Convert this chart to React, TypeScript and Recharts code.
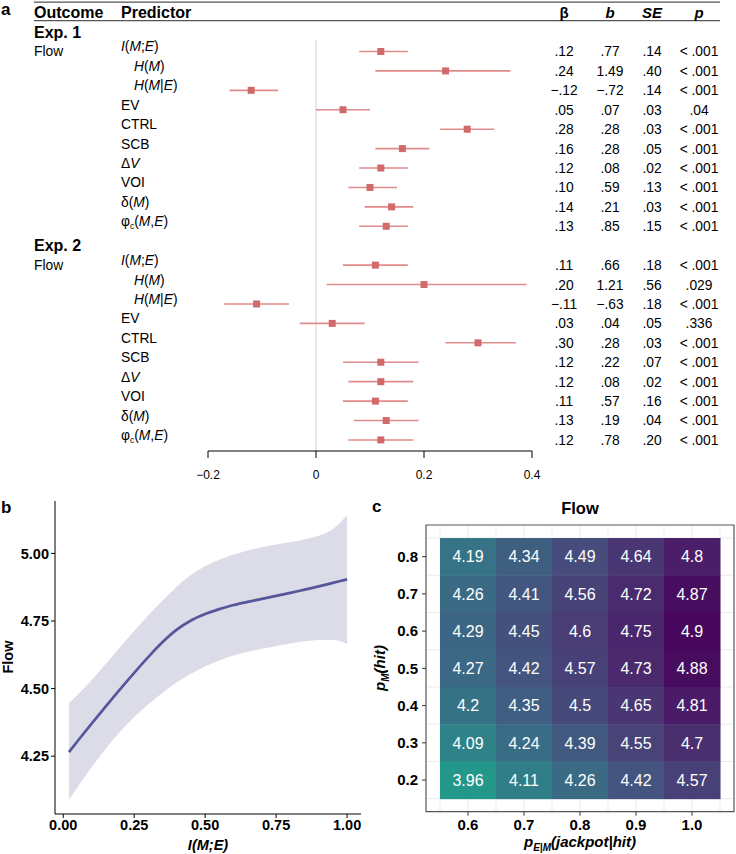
import React from "react";
import {
  ScatterChart,
  Scatter,
  ErrorBar,
  XAxis,
  YAxis,
  ReferenceLine,
  ReferenceArea,
  ComposedChart,
  Area,
  Line,
  CartesianGrid,
} from "recharts";

const FONT = '"Liberation Sans", Arial, Helvetica, sans-serif';

// ---------- panel a: regression table ----------
const predictors = [
  "_I_(_M_;_E_)",
  "_H_(_M_)",
  "_H_(_M_|_E_)",
  "EV",
  "CTRL",
  "SCB",
  "Δ_V_",
  "VOI",
  "δ(_M_)",
  "φ~c~(_M_,_E_)",
];
const predictorIndent = [0, 1, 1, 0, 0, 0, 0, 0, 0, 0];

const exp1Beta = [0.12, 0.24, -0.12, 0.05, 0.28, 0.16, 0.12, 0.1, 0.14, 0.13];
const exp1B = [0.77, 1.49, -0.72, 0.07, 0.28, 0.28, 0.08, 0.59, 0.21, 0.85];
const exp1SE = [0.14, 0.4, 0.14, 0.03, 0.03, 0.05, 0.02, 0.13, 0.03, 0.15];
const exp1P = ["< .001", "< .001", "< .001", ".04", "< .001", "< .001", "< .001", "< .001", "< .001", "< .001"];
const exp1Lo = [0.08, 0.11, -0.16, 0.0, 0.23, 0.11, 0.08, 0.06, 0.09, 0.08];
const exp1Hi = [0.17, 0.36, -0.07, 0.1, 0.33, 0.21, 0.17, 0.15, 0.18, 0.17];

const exp2Beta = [0.11, 0.2, -0.11, 0.03, 0.3, 0.12, 0.12, 0.11, 0.13, 0.12];
const exp2B = [0.66, 1.21, -0.63, 0.04, 0.28, 0.22, 0.08, 0.57, 0.19, 0.78];
const exp2SE = [0.18, 0.56, 0.18, 0.05, 0.03, 0.07, 0.02, 0.16, 0.04, 0.2];
const exp2P = ["< .001", ".029", "< .001", ".336", "< .001", "< .001", "< .001", "< .001", "< .001", "< .001"];
const exp2Lo = [0.05, 0.02, -0.17, -0.03, 0.24, 0.05, 0.06, 0.05, 0.07, 0.06];
const exp2Hi = [0.17, 0.39, -0.05, 0.09, 0.37, 0.19, 0.18, 0.17, 0.19, 0.18];

const forestTicks = [-0.2, 0, 0.2, 0.4];

// ---------- panel b: smooth fit ----------
const bX = [0.02, 0.06, 0.1, 0.15, 0.2, 0.25, 0.3, 0.35, 0.4, 0.45, 0.5, 0.55, 0.6, 0.65, 0.7, 0.75, 0.8, 0.85, 0.9, 0.95, 1.0];
const bFit = [4.265, 4.318, 4.37, 4.434, 4.497, 4.558, 4.617, 4.672, 4.718, 4.752, 4.776, 4.794, 4.809, 4.821, 4.832, 4.843, 4.854, 4.866, 4.878, 4.891, 4.904];
const bHi = [4.446, 4.487, 4.532, 4.592, 4.653, 4.713, 4.771, 4.826, 4.877, 4.921, 4.953, 4.977, 4.996, 5.011, 5.023, 5.033, 5.042, 5.052, 5.065, 5.09, 5.141];
const bLo = [4.089, 4.15, 4.209, 4.277, 4.34, 4.395, 4.442, 4.485, 4.523, 4.555, 4.582, 4.604, 4.622, 4.636, 4.647, 4.657, 4.667, 4.675, 4.68, 4.68, 4.666];
const bXTicks = [0, 0.25, 0.5, 0.75, 1];
const bYTicks = [4.25, 4.5, 4.75, 5.0];

// ---------- panel c: heatmap ----------
const cX = [0.6, 0.7, 0.8, 0.9, 1.0];
const cY = [0.8, 0.7, 0.6, 0.5, 0.4, 0.3, 0.2];
const cValues = [
  [4.19, 4.34, 4.49, 4.64, 4.8],
  [4.26, 4.41, 4.56, 4.72, 4.87],
  [4.29, 4.45, 4.6, 4.75, 4.9],
  [4.27, 4.42, 4.57, 4.73, 4.88],
  [4.2, 4.35, 4.5, 4.65, 4.81],
  [4.09, 4.24, 4.39, 4.55, 4.7],
  [3.96, 4.11, 4.26, 4.42, 4.57],
];

const COLOR_STOPS: [number, string][] = [
  [3.96, "#24978b"],
  [4.1, "#2f8088"],
  [4.25, "#3a6b85"],
  [4.4, "#42577f"],
  [4.55, "#484478"],
  [4.7, "#4a2f6f"],
  [4.8, "#4a1e68"],
  [4.9, "#46075c"],
];

const hex = (c: string) => [1, 3, 5].map((i) => parseInt(c.slice(i, i + 2), 16));
function tileColor(v: number) {
  for (let i = 0; i < COLOR_STOPS.length - 1; i++) {
    const [v0, c0] = COLOR_STOPS[i];
    const [v1, c1] = COLOR_STOPS[i + 1];
    if (v <= v1 || i === COLOR_STOPS.length - 2) {
      const t = Math.max(0, Math.min(1, (v - v0) / (v1 - v0)));
      const a = hex(c0);
      const b = hex(c1);
      const m = a.map((x, k) => Math.round(x + (b[k] - x) * t));
      return `rgb(${m[0]},${m[1]},${m[2]})`;
    }
  }
  return COLOR_STOPS[0][1];
}

const fmt = (v: number) => v.toFixed(2).replace(/^(-?)0\./, "$1.").replace("-", "−");

const forestData = [
  ...predictors.map((_, i) => ({
    x: exp1Beta[i],
    y: i + 1,
    err: [exp1Beta[i] - exp1Lo[i], exp1Hi[i] - exp1Beta[i]],
  })),
  ...predictors.map((_, i) => ({
    x: exp2Beta[i],
    y: i + 12,
    err: [exp2Beta[i] - exp2Lo[i], exp2Hi[i] - exp2Beta[i]],
  })),
];
const rowTicks = Array.from({ length: 23 }, (_, i) => i - 1);

const bData = bX.map((x, i) => ({ x, fit: bFit[i], band: [bLo[i], bHi[i]] }));

const cData = cY.flatMap((y, r) => cX.map((x, c) => ({ x, y, v: cValues[r][c] })));

// rich label: _italic_ and ~subscript~
function rich(s: string, size: number) {
  const out: React.ReactNode[] = [];
  let shifted = false;
  s.split("_").forEach((p, i) => {
    p.split("~").forEach((q, j) => {
      if (!q) return;
      const sub = j % 2 === 1;
      let dy = 0;
      if (sub && !shifted) {
        dy = 3;
        shifted = true;
      } else if (!sub && shifted) {
        dy = -3;
        shifted = false;
      }
      out.push(
        <tspan
          key={`${i}-${j}`}
          fontStyle={i % 2 === 1 ? "italic" : "normal"}
          fontSize={sub ? size * 0.62 : size}
          dy={dy}
        >
          {q}
        </tspan>
      );
    });
  });
  return out;
}

const COLS = { outcome: 34, predictor: 121, indent: 134, beta: 564, b: 610, se: 652, p: 699 };
const ROW_FS = 13.8;

const RowTick = (props: any) => {
  const { y, payload } = props;
  const idx: number = payload.value;
  const common = { fontFamily: FONT, fill: "#000", dy: "0.36em" };
  if (idx === -1) {
    return (
      <g>
        <line x1={34} x2={720} y1={y - 10.5} y2={y - 10.5} stroke="#555" strokeWidth={1.2} />
        <line x1={34} x2={720} y1={y + 8} y2={y + 8} stroke="#555" strokeWidth={1.2} />
        <text {...common} x={COLS.outcome} y={y} fontSize={16} fontWeight="bold">Outcome</text>
        <text {...common} x={COLS.predictor} y={y} fontSize={16} fontWeight="bold">Predictor</text>
        <text {...common} x={COLS.beta} y={y} fontSize={15} fontWeight="bold" textAnchor="middle">β</text>
        <text {...common} x={COLS.b} y={y} fontSize={15} fontWeight="bold" fontStyle="italic" textAnchor="middle">b</text>
        <text {...common} x={COLS.se} y={y} fontSize={15} fontWeight="bold" fontStyle="italic" textAnchor="middle">SE</text>
        <text {...common} x={COLS.p} y={y} fontSize={15} fontWeight="bold" fontStyle="italic" textAnchor="middle">p</text>
      </g>
    );
  }
  if (idx === 0 || idx === 11) {
    return (
      <text {...common} x={COLS.outcome} y={y} fontSize={16} fontWeight="bold">
        {idx === 0 ? "Exp. 1" : "Exp. 2"}
      </text>
    );
  }
  const second = idx > 11;
  const i = second ? idx - 12 : idx - 1;
  const beta = second ? exp2Beta : exp1Beta;
  const b = second ? exp2B : exp1B;
  const se = second ? exp2SE : exp1SE;
  const p = second ? exp2P : exp1P;
  return (
    <g>
      {i === 0 && (
        <text {...common} x={COLS.outcome} y={y} fontSize={ROW_FS}>Flow</text>
      )}
      <text {...common} x={predictorIndent[i] ? COLS.indent : COLS.predictor} y={y} fontSize={ROW_FS}>
        {rich(predictors[i], ROW_FS)}
      </text>
      <text {...common} x={COLS.beta} y={y} fontSize={ROW_FS} textAnchor="middle">{fmt(beta[i])}</text>
      <text {...common} x={COLS.b} y={y} fontSize={ROW_FS} textAnchor="middle">{fmt(b[i])}</text>
      <text {...common} x={COLS.se} y={y} fontSize={ROW_FS} textAnchor="middle">{fmt(se[i])}</text>
      <text {...common} x={COLS.p} y={y} fontSize={ROW_FS} textAnchor="middle">{p[i]}</text>
    </g>
  );
};

const Square = (props: any) => {
  const { cx, cy } = props;
  return <rect x={cx - 3.5} y={cy - 3.5} width={7} height={7} fill="#d06a6b" />;
};
const Empty = () => <g />;

const C_W = 366, C_H = 359;
const C_M = { top: 30, right: 2, left: 0, bottom: 0 };
const C_YW = 56, C_XH = 42.3;
const C_XDOM: [number, number] = [0.525, 1.075];
const C_YDOM: [number, number] = [0.115, 0.885];
const cellW = (0.1 / (C_XDOM[1] - C_XDOM[0])) * (C_W - C_YW - C_M.right);
const cellH = (0.1 / (C_YDOM[1] - C_YDOM[0])) * (C_H - C_M.top - C_XH);

const Tile = (props: any) => {
  const { cx, cy, payload } = props;
  return (
    <g>
      <rect x={cx - cellW / 2} y={cy - cellH / 2} width={cellW + 0.5} height={cellH + 0.5} fill={tileColor(payload.v)} />
      <text x={cx} y={cy} dy="0.36em" textAnchor="middle" fill="#fff" fontSize={16} fontFamily={FONT}>
        {String(payload.v)}
      </text>
    </g>
  );
};

const panelLabel: React.CSSProperties = {
  position: "absolute",
  fontFamily: FONT,
  fontWeight: "bold",
  fontSize: 17,
  lineHeight: "normal",
};

export default function App() {
  return (
    <div style={{ position: "absolute", left: 0, top: 0, width: 736, height: 854, background: "#fff", fontFamily: FONT }}>
      <div style={{ ...panelLabel, left: 1, top: 0 }}>a</div>
      <div style={{ ...panelLabel, left: 1, top: 498 }}>b</div>
      <div style={{ ...panelLabel, left: 372, top: 497 }}>c</div>

      {/* panel a */}
      <div style={{ position: "absolute", left: 0, top: 0 }}>
        <ScatterChart width={736} height={481} margin={{ top: 1, right: 204, left: 0, bottom: 0 }}>
          <XAxis
            type="number"
            dataKey="x"
            domain={[-0.2, 0.4]}
            ticks={forestTicks}
            allowDataOverflow
            height={30}
            axisLine={{ stroke: "#000", strokeWidth: 1 }}
            tickLine={{ stroke: "#000", strokeWidth: 1 }}
            tickSize={7}
            tickMargin={12}
            tick={{ fill: "#000", fontSize: 12, fontFamily: FONT }}
            tickFormatter={(v: number) => (v === 0 ? "0" : v.toFixed(1).replace("-", "−"))}
          />
          <YAxis
            type="number"
            dataKey="y"
            domain={[-1.6, 21.57]}
            reversed
            ticks={rowTicks}
            interval={0}
            width={208}
            axisLine={false}
            tickLine={false}
            tick={(p: any) => <RowTick {...p} />}
          />
          <ReferenceLine
            segment={[{ x: 0, y: 0.41 }, { x: 0, y: 21.57 }]}
            stroke="#cfcfcf"
            strokeWidth={1}
          />
          <Scatter data={forestData} shape={<Empty />} isAnimationActive={false}>
            <ErrorBar dataKey="err" direction="x" width={0} stroke="#e08b8b" strokeWidth={1.6} isAnimationActive={false} />
          </Scatter>
          <Scatter data={forestData} shape={<Square />} isAnimationActive={false} />
        </ScatterChart>
      </div>

      {/* panel b */}
      <div style={{ position: "absolute", left: 0, top: 495 }}>
        <ComposedChart width={370} height={359} data={bData} margin={{ top: 6, right: 9, left: 0, bottom: 0 }}>
          <XAxis
            type="number"
            dataKey="x"
            domain={[-0.029, 1.049]}
            allowDataOverflow
            ticks={bXTicks}
            height={40}
            axisLine={{ stroke: "#000" }}
            tickLine={{ stroke: "#000" }}
            tickSize={4}
            tickMargin={2}
            tick={{ fill: "#000", fontSize: 14.5, fontWeight: "bold", fontFamily: FONT }}
            tickFormatter={(v: number) => v.toFixed(2)}
          />
          <YAxis
            type="number"
            domain={[4.036, 5.194]}
            allowDataOverflow
            ticks={bYTicks}
            width={55}
            axisLine={{ stroke: "#000" }}
            tickLine={{ stroke: "#000" }}
            tickSize={4}
            tickMargin={2}
            tick={{ fill: "#000", fontSize: 14.5, fontWeight: "bold", fontFamily: FONT }}
            tickFormatter={(v: number) => v.toFixed(2)}
          />
          <Area
            dataKey="band"
            type="monotone"
            stroke="none"
            fill="#dcdce9"
            fillOpacity={1}
            isAnimationActive={false}
          />
          <Line
            dataKey="fit"
            type="monotone"
            stroke="#56569a"
            strokeWidth={2.7}
            dot={false}
            isAnimationActive={false}
          />
        </ComposedChart>
      </div>
      <div
        style={{
          position: "absolute",
          left: 8,
          top: 657,
          transform: "translate(-50%, -50%) rotate(-90deg)",
          fontWeight: "bold",
          fontSize: 14.5,
        }}
      >
        Flow
      </div>
      <div
        style={{
          position: "absolute",
          left: 208,
          top: 845,
          transform: "translate(-50%, -50%)",
          fontWeight: "bold",
          fontStyle: "italic",
          fontSize: 14.5,
        }}
      >
        I(M;E)
      </div>

      {/* panel c */}
      <div
        style={{
          position: "absolute",
          left: 580,
          top: 508,
          transform: "translate(-50%, -50%)",
          fontWeight: "bold",
          fontSize: 16.5,
        }}
      >
        Flow
      </div>
      <div style={{ position: "absolute", left: 370, top: 495 }}>
        <ScatterChart width={C_W} height={C_H} margin={C_M}>
          <CartesianGrid
            stroke="#ebebeb"
            verticalValues={[0.55, 0.6, 0.65, 0.7, 0.75, 0.8, 0.85, 0.9, 0.95, 1.0, 1.05]}
            horizontalValues={[0.15, 0.2, 0.25, 0.3, 0.35, 0.4, 0.45, 0.5, 0.55, 0.6, 0.65, 0.7, 0.75, 0.8, 0.85]}
          />
          <XAxis
            type="number"
            dataKey="x"
            domain={C_XDOM}
            allowDataOverflow
            ticks={cX}
            height={C_XH}
            axisLine={false}
            tickLine={{ stroke: "#333" }}
            tickSize={4}
            tickMargin={4}
            tick={{ fill: "#000", fontSize: 15, fontWeight: "bold", fontFamily: FONT }}
            tickFormatter={(v: number) => v.toFixed(1)}
          />
          <YAxis
            type="number"
            dataKey="y"
            domain={C_YDOM}
            allowDataOverflow
            ticks={[...cY].reverse()}
            width={C_YW}
            axisLine={false}
            tickLine={{ stroke: "#333" }}
            tickSize={4}
            tickMargin={4}
            tick={{ fill: "#000", fontSize: 15, fontWeight: "bold", fontFamily: FONT }}
            tickFormatter={(v: number) => v.toFixed(1)}
          />
          <Scatter data={cData} shape={<Tile />} isAnimationActive={false} />
          <ReferenceArea
            x1={C_XDOM[0]}
            x2={C_XDOM[1]}
            y1={C_YDOM[0]}
            y2={C_YDOM[1]}
            fill="none"
            fillOpacity={0}
            stroke="#555"
            strokeWidth={1.2}
            ifOverflow="visible"
          />
        </ScatterChart>
      </div>
      <div
        style={{
          position: "absolute",
          left: 381,
          top: 668,
          transform: "translate(-50%, -50%) rotate(-90deg)",
          fontWeight: "bold",
          fontStyle: "italic",
          fontSize: 15,
          whiteSpace: "nowrap",
        }}
      >
        p<sub style={{ fontSize: 10 }}>M</sub>(hit)
      </div>
      <div
        style={{
          position: "absolute",
          left: 580,
          top: 843,
          transform: "translate(-50%, -50%)",
          fontWeight: "bold",
          fontStyle: "italic",
          fontSize: 15,
          whiteSpace: "nowrap",
        }}
      >
        p<sub style={{ fontSize: 10 }}>E|M</sub>(jackpot|hit)
      </div>
    </div>
  );
}
